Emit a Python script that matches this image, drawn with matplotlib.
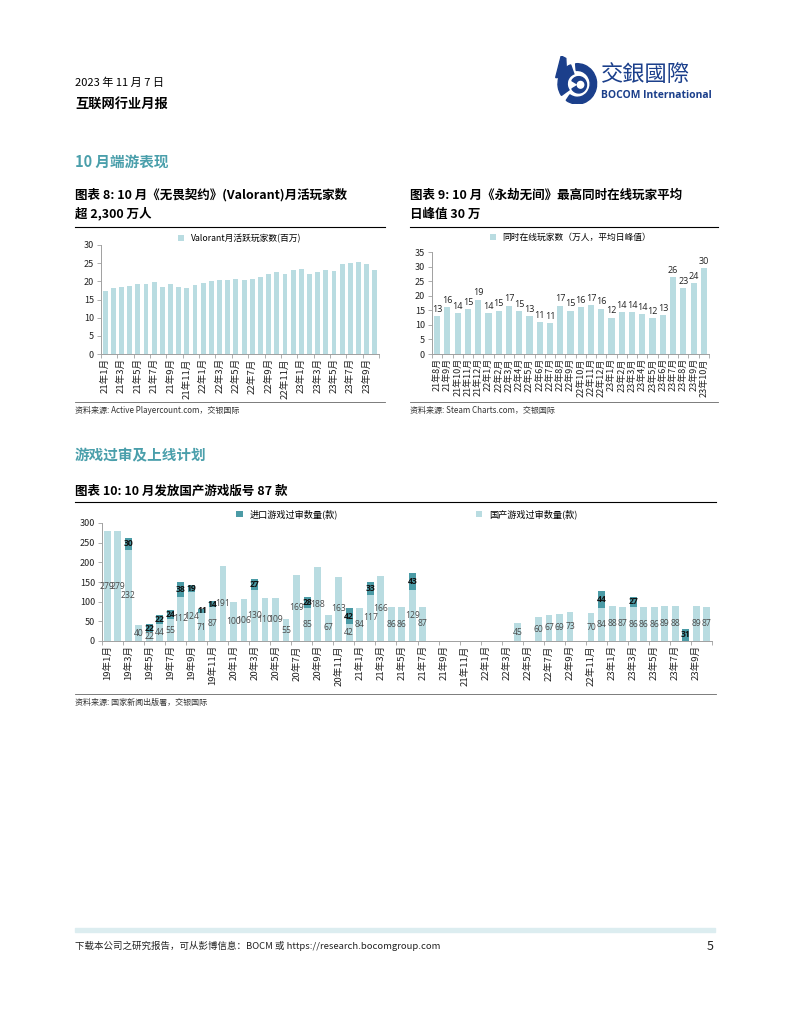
import numpy as np
import matplotlib.pyplot as plt
from matplotlib.patches import Rectangle, Wedge, Circle, Polygon

plt.rcParams['font.family'] = ['Noto Sans CJK SC', 'DejaVu Sans']

# ---- data ----
val_labels = [f'{y}年{m}月' for y in (21, 22, 23) for m in range(1, 13)][:34]
val_mau = [17.4, 18.3, 18.5, 18.8, 19.3, 19.3, 19.9, 18.5, 19.2, 18.5, 18.3, 19.0,
           19.5, 20.0, 20.4, 20.5, 20.6, 20.3, 20.7, 21.3, 22.0, 22.5, 22.1, 23.0,
           23.3, 22.1, 22.6, 23.2, 22.9, 24.7, 25.1, 25.4, 24.7, 23.1]

nar_labels = [f'{y}年{m}月' for y in (21, 22, 23) for m in range(1, 13)][7:34]
nar_peak = [12.9, 16.1, 14.1, 15.4, 18.7, 13.9, 14.9, 16.6, 14.6, 13.0, 10.9, 10.6,
            16.6, 14.9, 16.1, 16.7, 15.6, 12.5, 14.4, 14.4, 13.7, 12.4, 13.3, 26.4,
            22.6, 24.2, 29.5]

lic_labels = [f'{y}年{m}月' for y in (19, 20, 21, 22, 23) for m in range(1, 13)][:58]
lic_domestic = [279, 279, 232, 40, 22, 44, 55, 112, 124, 71, 87, 191,
                100, 106, 130, 110, 109, 55, 169, 85, 188, 67, 163, 42,
                84, 117, 166, 86, 86, 129, 87, 0, 0, 0, 0, 0,
                0, 0, 0, 45, 0, 60, 67, 69, 73, 0, 70, 84,
                88, 87, 86, 86, 86, 89, 88, 0, 89, 87]
lic_import = [0, 0, 30, 0, 22, 22, 24, 38, 19, 11, 14, 0,
              0, 0, 27, 0, 0, 0, 0, 28, 0, 0, 0, 42,
              0, 33, 0, 0, 0, 43, 0, 0, 0, 0, 0, 0,
              0, 0, 0, 0, 0, 0, 0, 0, 0, 0, 0, 44,
              0, 0, 27, 0, 0, 0, 0, 31, 0, 0]

LIGHT = '#b9dce1'
DARK = '#4b9ba6'
TEAL = '#4a9fab'
NAVY = '#1b3f8b'
GRAY = '#4a4a4a'

W, H = 791, 1024
fig = plt.figure(figsize=(W / 100, H / 100), dpi=100)


def ax_px(x0, y0, x1, y1):
    return fig.add_axes([x0 / W, 1 - y1 / H, (x1 - x0) / W, (y1 - y0) / H])


def ftext(x, y, s, **kw):
    kw.setdefault('va', 'center')
    return fig.text(x / W, 1 - y / H, s, **kw)


def hline(x0, x1, y, color='black', lw=0.8):
    fig.add_artist(plt.Line2D([x0 / W, x1 / W], [1 - y / H, 1 - y / H],
                              color=color, lw=lw))


def style_axis(ax, n, ymax, ystep, labels, every, xfs):
    for s in ('top', 'right'):
        ax.spines[s].set_visible(False)
    for s in ('left', 'bottom'):
        ax.spines[s].set_color('#a0a0a0')
        ax.spines[s].set_linewidth(0.7)
    ax.set_xlim(-0.5, n - 0.5)
    ax.set_ylim(0, ymax)
    ax.set_yticks(np.arange(0, ymax + 0.1, ystep))
    ax.tick_params(axis='y', labelsize=6.5, length=3, width=0.6, color='#a0a0a0',
                   labelcolor='#222222', pad=2)
    ax.set_xticks(range(0, n, every))
    ax.set_xticklabels(labels[::every], rotation=90, fontsize=xfs, color='#222222')
    ax.tick_params(axis='x', length=0, pad=3)
    ax.set_xticks(np.arange(-0.5, n, every), minor=True)
    ax.tick_params(axis='x', which='minor', length=3, width=0.6, color='#a0a0a0')


# ---- header ----
ftext(75, 83, '2023 年 11 月 7 日', fontsize=8, color='black')
ftext(75, 104, '互联网行业月报', fontsize=9.5, fontweight='bold', color='black')
ftext(75, 162, '10 月端游表现', fontsize=10.5, fontweight='bold', color=TEAL)
ftext(75, 455, '游戏过审及上线计划', fontsize=10.5, fontweight='bold', color=TEAL)

# logo
lg = ax_px(552, 56, 598, 104)
lg.set_xlim(0, 1)
lg.set_ylim(0, 1)
lg.axis('off')
lg.add_patch(Polygon([[0.08, 0.55], [0.2, 1.0], [0.3, 0.95], [0.32, 0.55]],
                     closed=True, color=NAVY))
lg.add_patch(Wedge((0.55, 0.42), 0.42, 110, 215, width=0.2, color=NAVY))
lg.add_patch(Wedge((0.55, 0.42), 0.42, 235, 95, width=0.14, color=NAVY))
lg.add_patch(Wedge((0.58, 0.4), 0.17, 210, 150, color=NAVY))
lg.add_patch(Circle((0.62, 0.4), 0.07, color='white'))
ftext(601, 74, '交銀國際', fontsize=16, color=NAVY)
ftext(601, 95, 'BOCOM International', fontsize=7.5, fontweight='bold', color=NAVY,
      family=['Open Sans', 'DejaVu Sans'])

# ---- chart 8 ----
ftext(75, 195, '图表 8: 10 月《无畏契约》(Valorant)月活玩家数', fontsize=9, fontweight='bold')
ftext(75, 214, '超 2,300 万人', fontsize=9, fontweight='bold')
hline(75, 385, 227)
ax1 = ax_px(101, 245, 379, 354)
x1 = np.arange(len(val_mau))
ax1.bar(x1, val_mau, width=0.6, color=LIGHT, label='Valorant月活跃玩家数(百万)')
style_axis(ax1, len(val_mau), 30, 5, val_labels, 2, 6.9)
ax1.legend(loc='lower center', bbox_to_anchor=(0.5, 0.97), frameon=False, fontsize=6.3,
           handlelength=0.7, handleheight=0.7, borderaxespad=0.2)
hline(75, 385, 402, color='#666666', lw=0.6)
ftext(75, 410, '资料来源: Active Playercount.com，交银国际', fontsize=5.8,
      style='italic', color='#333333')

# ---- chart 9 ----
ftext(410, 195, '图表 9: 10 月《永劫无间》最高同时在线玩家平均', fontsize=9, fontweight='bold')
ftext(410, 214, '日峰值 30 万', fontsize=9, fontweight='bold')
hline(410, 718, 227)
ax2 = ax_px(432, 252, 709, 354)
x2 = np.arange(len(nar_peak))
ax2.bar(x2, nar_peak, width=0.6, color=LIGHT, label='同时在线玩家数（万人，平均日峰值）')
style_axis(ax2, len(nar_peak), 35, 5, nar_labels, 1, 6.5)
for i, v in enumerate(nar_peak):
    ax2.text(i, v + 0.8, f'{v:.0f}', ha='center', va='bottom', fontsize=6.5,
             color='#222222', family=['Open Sans', 'DejaVu Sans'])
ax2.legend(loc='lower center', bbox_to_anchor=(0.5, 1.05), frameon=False, fontsize=6.3,
           handlelength=0.7, handleheight=0.7, borderaxespad=0.2)
hline(410, 718, 402, color='#666666', lw=0.6)
ftext(410, 410, '资料来源: Steam Charts.com，交银国际', fontsize=5.8,
      style='italic', color='#333333')

# ---- chart 10 ----
ftext(75, 491, '图表 10: 10 月发放国产游戏版号 87 款', fontsize=9, fontweight='bold')
hline(75, 716, 502)
ax3 = ax_px(102, 523, 712, 641)
x3 = np.arange(len(lic_domestic))
dom = np.array(lic_domestic)
imp = np.array(lic_import)
ax3.bar(x3, imp, bottom=dom, width=0.65, color=DARK, label='进口游戏过审数量(款)')
ax3.bar(x3, dom, width=0.65, color=LIGHT, label='国产游戏过审数量(款)')
style_axis(ax3, len(dom), 300, 50, lic_labels, 2, 6.9)
for i in range(len(dom)):
    if dom[i] > 0:
        ax3.text(i, dom[i] / 2, str(dom[i]), ha='center', va='center', fontsize=6.2,
                 color=GRAY, family=['Open Sans', 'DejaVu Sans'])
    if imp[i] > 0:
        ax3.text(i, dom[i] + imp[i] / 2, str(imp[i]), ha='center', va='center',
                 fontsize=6.2, fontweight='bold', color='#111111',
                 family=['Open Sans', 'DejaVu Sans'])
ax3.legend(loc='lower center', bbox_to_anchor=(0.5, 0.98), ncol=2, frameon=False,
           fontsize=6.6, handlelength=0.7, handleheight=0.7, columnspacing=15,
           borderaxespad=0.3)
hline(75, 716, 694, color='#666666', lw=0.6)
ftext(75, 702, '资料来源: 国家新闻出版署，交银国际', fontsize=5.8, style='italic',
      color='#333333')

# ---- footer ----
fig.add_artist(Rectangle((75 / W, 1 - 932 / H), 640 / W, 4 / H, color='#dcedf0',
                         transform=fig.transFigure))
ftext(75, 946, '下载本公司之研究报告，可从彭博信息：BOCM 或 https://research.bocomgroup.com',
      fontsize=6.8, color='#222222')
ftext(714, 946, '5', fontsize=9, ha='right', color='#222222')

fig.savefig('out.png', dpi=100)
